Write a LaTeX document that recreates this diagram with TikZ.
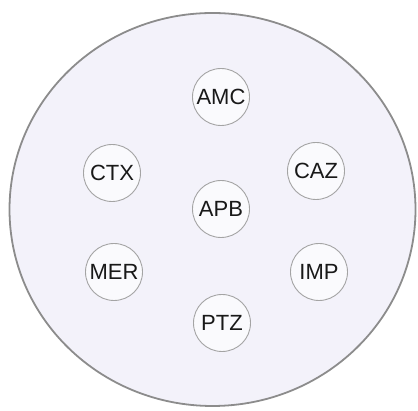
\documentclass[tikz,border=0pt]{standalone}
\usepackage{fontspec}
\setmainfont{Liberation Sans}
\definecolor{dishfill}{HTML}{F3F2FA}
\definecolor{dishline}{HTML}{8C8C8C}
\definecolor{discline}{HTML}{A4A4A4}
\definecolor{discfill}{HTML}{FAFAFD}
\begin{document}
\begin{tikzpicture}[x=1pt,y=1pt,
  disc/.style={circle, draw=discline, line width=0.9pt, fill=discfill,
    minimum size=57pt, inner sep=0pt, font=\fontsize{22}{24}\selectfont, text=black!90}]
\useasboundingbox (0,0) rectangle (418,411);
% agar plate
\draw[dishline, line width=1.8pt, fill=dishfill] (212.5,201.5) ellipse [x radius=203, y radius=196.5];
% antibiotic discs
\node[disc] (amc) at (221,314) {AMC};
\node[disc] (ctx) at (112,238) {CTX};
\node[disc] (caz) at (316,240) {CAZ};
\node[disc] (apb) at (221,202) {APB};
\node[disc] (mer) at (114,139) {MER};
\node[disc] (imp) at (319,139) {IMP};
\node[disc] (ptz) at (222,88) {PTZ};
\end{tikzpicture}
\end{document}
